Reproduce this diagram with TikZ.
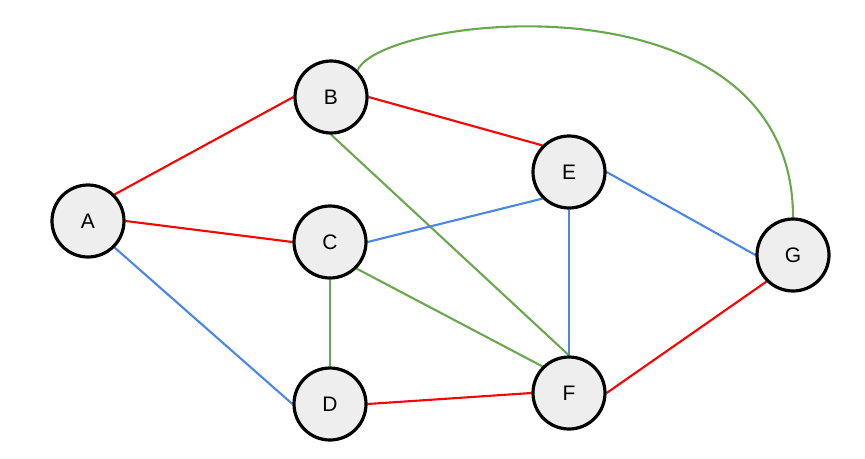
\documentclass[tikz,border=0pt]{standalone}
\usepackage{fontspec}
\setmainfont{Liberation Sans}
\usetikzlibrary{backgrounds}
\definecolor{nodefill}{HTML}{EEEEEE}
\definecolor{ered}{HTML}{FF0000}
\definecolor{eblue}{HTML}{4A86E8}
\definecolor{egreen}{HTML}{6AA84F}
\begin{document}
\begin{tikzpicture}[x=1pt,y=-1pt,
  vert/.style={circle, draw=black, line width=3.2pt, fill=nodefill, minimum size=72pt, inner sep=0pt, font=\fontsize{21}{23}\selectfont},
  redge/.style={draw=ered, line width=2.1pt},
  bedge/.style={draw=eblue, line width=2.1pt},
  gedge/.style={draw=egreen, line width=2.1pt}]
\useasboundingbox (0,0) rectangle (865,458);
\node[vert] (A) at (88,221) {A};
\node[vert] (B) at (331,97) {B};
\node[vert] (C) at (330,242) {C};
\node[vert] (D) at (330,404) {D};
\node[vert] (E) at (569,172) {E};
\node[vert] (F) at (569,393) {F};
\node[vert] (G) at (793,255) {G};
\begin{scope}[on background layer]
\draw[redge] (A.45) -- (B.west);
\draw[redge] (A.east) -- (C.west);
\draw[bedge] (A.-45) -- (D.west);
\draw[redge] (B.east) -- (E.135);
\draw[gedge] (B.south) -- (F.north);
\draw[gedge] (B.45) .. controls +(22,-55) and +(0,-250) .. (G.north);
\draw[bedge] (C.east) -- (E.225);
\draw[gedge] (C.south) -- (D.north);
\draw[gedge] (C.-45) -- (F.135);
\draw[bedge] (E.south) -- (F.north);
\draw[bedge] (E.east) -- (G.west);
\draw[redge] (D.east) -- (F.west);
\draw[redge] (F.east) -- (G.225);
\end{scope}
\end{tikzpicture}
\end{document}
